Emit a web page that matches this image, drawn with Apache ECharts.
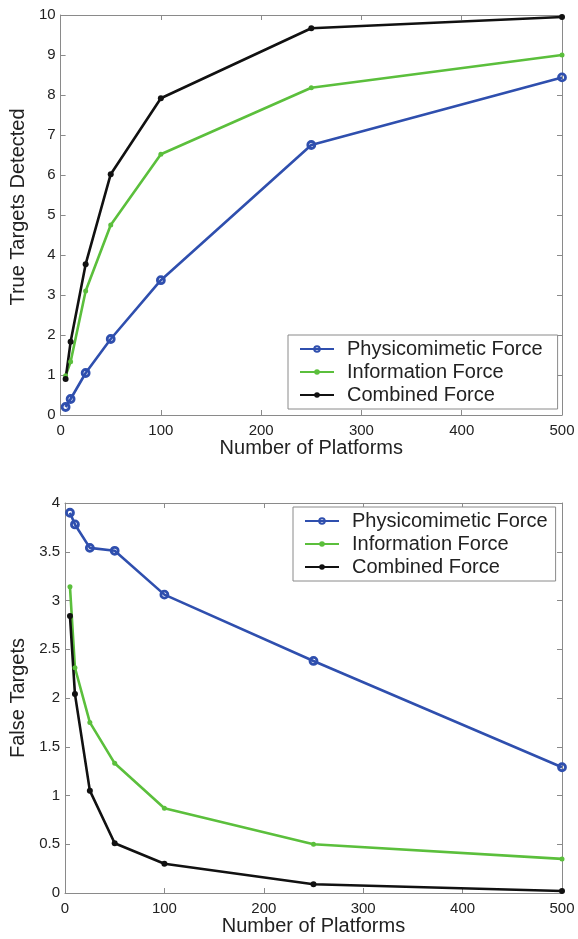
<!DOCTYPE html>
<html>
<head>
<meta charset="utf-8">
<script src="https://cdn.jsdelivr.net/npm/echarts@6/dist/echarts.min.js"></script>
<style>
  html, body { margin: 0; padding: 0; background: #fff; }
  #chart { width: 578px; height: 939px; }
</style>
</head>
<body>
<div id="chart"></div>
<script>
// Number of platforms used in each run
const platforms = [5, 10, 25, 50, 100, 250, 500];

// True targets detected
const truePhysico = [0.2, 0.4, 1.05, 1.9, 3.37, 6.75, 8.44];
const trueInfo = [0.98, 1.33, 3.1, 4.75, 6.52, 8.18, 9.0];
const trueCombined = [0.9, 1.83, 3.77, 6.02, 7.92, 9.67, 9.95];

// False targets
const falsePhysico = [3.9, 3.78, 3.54, 3.51, 3.06, 2.38, 1.29];
const falseInfo = [3.14, 2.31, 1.75, 1.33, 0.87, 0.5, 0.35];
const falseCombined = [2.84, 2.04, 1.05, 0.51, 0.3, 0.09, 0.02];

const seriesNames = ['Physicomimetic Force', 'Information Force', 'Combined Force'];

const FONT = "'Liberation Sans', Arial, Helvetica, sans-serif";
const AXIS_GRAY = '#8a8a8a';
const TEXT = '#222';
const BLUE = '#2f4fae';
const GREEN = '#5bbf3c';
const BLACK = '#111111';

const pairs = (ys) => platforms.map((x, i) => [x, ys[i]]);

const axisLine = { show: true, onZero: false, lineStyle: { color: AXIS_GRAY, width: 1 } };
const axisTick = { show: true, inside: true, length: 5, lineStyle: { color: AXIS_GRAY } };

function xAxes(gridIndex) {
  const common = {
    gridIndex, type: 'value', min: 0, max: 500, interval: 100,
    axisLine, axisTick, splitLine: { show: false }
  };
  return [
    Object.assign({}, common, {
      position: 'bottom',
      name: 'Number of Platforms', nameLocation: 'middle', nameGap: 21,
      nameTextStyle: { fontFamily: FONT, fontSize: 20, color: TEXT },
      axisLabel: { fontFamily: FONT, fontSize: 15, color: TEXT, margin: 8 }
    }),
    Object.assign({}, common, { position: 'top', axisLabel: { show: false } })
  ];
}

function yAxes(gridIndex, max, interval, title, gap, titlePad) {
  const common = {
    gridIndex, type: 'value', min: 0, max, interval,
    axisLine, axisTick, splitLine: { show: false }
  };
  return [
    Object.assign({}, common, {
      position: 'left',
      name: title, nameLocation: 'middle', nameGap: gap,
      nameTextStyle: { fontFamily: FONT, fontSize: 20, color: TEXT, padding: titlePad },
      axisLabel: { fontFamily: FONT, fontSize: 15, color: TEXT, margin: 5 }
    }),
    Object.assign({}, common, { position: 'right', axisLabel: { show: false } })
  ];
}

function lineSeries(name, ys, axisIndex) {
  const base = {
    name, type: 'line', data: pairs(ys),
    xAxisIndex: axisIndex, yAxisIndex: axisIndex,
    z: 3, animation: false
  };
  if (name === seriesNames[0]) {
    return Object.assign(base, {
      symbol: 'circle', symbolSize: 7,
      lineStyle: { color: BLUE, width: 2.6 },
      itemStyle: { color: 'rgba(255,255,255,0)', borderColor: BLUE, borderWidth: 2.8 }
    });
  }
  if (name === seriesNames[1]) {
    return Object.assign(base, {
      symbol: 'circle', symbolSize: 5,
      lineStyle: { color: GREEN, width: 2.6 },
      itemStyle: { color: GREEN }
    });
  }
  return Object.assign(base, {
    symbol: 'circle', symbolSize: 6,
    lineStyle: { color: BLACK, width: 2.6 },
    itemStyle: { color: BLACK }
  });
}

function legendBox(left, top, padRight) {
  return {
    orient: 'vertical', left, top,
    data: seriesNames,
    itemWidth: 34, itemHeight: 7, itemGap: 3,
    padding: [4, padRight, 4, 11],
    backgroundColor: '#fff',
    borderColor: AXIS_GRAY, borderWidth: 1,
    textStyle: { fontFamily: FONT, fontSize: 20, color: TEXT, padding: [0, 0, 0, 8] },
    selectedMode: false
  };
}

const chart = echarts.init(document.getElementById('chart'), null, { renderer: 'canvas' });

chart.setOption({
  backgroundColor: '#fff',
  animation: false,
  grid: [
    { left: 56, top: 15, width: 506, height: 400 },
    { left: 63, top: 503, width: 499, height: 390 }
  ],
  xAxis: [...xAxes(0), ...xAxes(1)],
  yAxis: [
    ...yAxes(0, 10, 1, 'True Targets Detected', 30, [0, 0, 0, 16]),
    ...yAxes(1, 4, 0.5, 'False Targets', 37, 0)
  ],
  legend: [legendBox(288, 335, 15), legendBox(293, 507, 8)],
  series: [
    lineSeries(seriesNames[0], truePhysico, 0),
    lineSeries(seriesNames[1], trueInfo, 0),
    lineSeries(seriesNames[2], trueCombined, 0),
    lineSeries(seriesNames[0], falsePhysico, 2),
    lineSeries(seriesNames[1], falseInfo, 2),
    lineSeries(seriesNames[2], falseCombined, 2)
  ]
});
</script>
</body>
</html>
